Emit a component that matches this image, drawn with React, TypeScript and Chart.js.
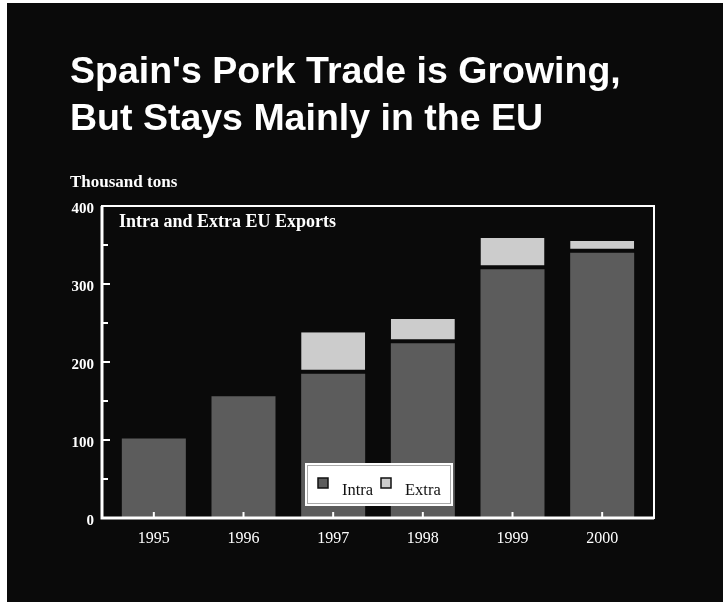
import React, { useEffect, useRef } from 'react';
import { Chart, registerables } from 'chart.js';

Chart.register(...registerables);

// ---- Data ----
const years = ['1995', '1996', '1997', '1998', '1999', '2000'];
const intraValues = [102, 156, 185, 224, 319, 340];
const extraValues = [0, 0, 53, 31, 40, 15];
const seriesNames = ['Intra', 'Extra'];
const yMax = 400;
const yStep = 50;
const yLabelStep = 100;

// ---- Texts ----
const titleLines = ["Spain's Pork Trade is Growing,", 'But Stays Mainly in the EU'];
const unitLabel = 'Thousand tons';
const panelLabel = 'Intra and Extra EU Exports';

const W = 723;
const H = 602;
const SERIF = '"Liberation Serif", "Times New Roman", serif';
const SANS = '"Liberation Sans", Arial, sans-serif';
const BG = '#0a0a0a';
const INTRA_COLOR = '#5c5c5c';
const EXTRA_COLOR = '#cccccc';

const decorPlugin = {
  id: 'decor',
  beforeDraw(chart: any) {
    const ctx = chart.ctx;
    ctx.save();
    ctx.fillStyle = '#ffffff';
    ctx.fillRect(0, 0, W, H);
    ctx.fillStyle = BG;
    ctx.fillRect(7, 3, W - 7, H - 3);
    ctx.fillStyle = '#ffffff';
    ctx.textAlign = 'left';
    ctx.textBaseline = 'alphabetic';
    ctx.font = `bold 37.5px ${SANS}`;
    ctx.fillText(titleLines[0], 70, 83);
    ctx.fillText(titleLines[1], 70, 130);
    ctx.font = `bold 17px ${SERIF}`;
    ctx.fillText(unitLabel, 70, 187);
    ctx.restore();
  },
  afterDatasetsDraw(chart: any) {
    const { ctx, chartArea: ca, scales } = chart;
    const xs = scales.x;
    const ys = scales.y;
    const left = ca.left - 7;
    const right = ca.right + 7;
    const top = ca.top;
    const bottom = ca.bottom;
    ctx.save();
    ctx.strokeStyle = '#ffffff';
    ctx.fillStyle = '#ffffff';

    // inward y tick marks
    ctx.lineWidth = 2;
    ys.ticks.forEach((t: any) => {
      if (t.value <= 0 || t.value >= yMax) return;
      const py = ys.getPixelForValue(t.value);
      ctx.beginPath();
      ctx.moveTo(left, py);
      ctx.lineTo(left + (t.value % yLabelStep === 0 ? 8 : 6), py);
      ctx.stroke();
    });
    // inward x tick marks
    years.forEach((_, i) => {
      const px = xs.getPixelForValue(i);
      ctx.beginPath();
      ctx.moveTo(px, bottom);
      ctx.lineTo(px, bottom - 6);
      ctx.stroke();
    });

    // frame
    ctx.lineWidth = 2;
    ctx.strokeRect(left, top, right - left, bottom - top);
    ctx.lineWidth = 3;
    ctx.beginPath();
    ctx.moveTo(left, top);
    ctx.lineTo(left, bottom);
    ctx.lineTo(right, bottom);
    ctx.stroke();

    // panel label
    ctx.font = `bold 18px ${SERIF}`;
    ctx.textAlign = 'left';
    ctx.textBaseline = 'alphabetic';
    ctx.fillText(panelLabel, left + 17, top + 21);

    // legend box
    const lw = 148;
    const lh = 43;
    const lx = (ca.left + ca.right) / 2 - lw / 2 + 1;
    const ly = bottom - 12 - lh;
    ctx.fillStyle = '#ffffff';
    ctx.fillRect(lx, ly, lw, lh);
    ctx.strokeStyle = '#555555';
    ctx.lineWidth = 1;
    ctx.setLineDash([1, 1]);
    ctx.strokeRect(lx + 2.5, ly + 2.5, lw - 5, lh - 5);
    ctx.setLineDash([]);

    const colors = [INTRA_COLOR, EXTRA_COLOR];
    const itemX = [lx + 13, lx + 76];
    ctx.font = `16.5px ${SERIF}`;
    seriesNames.forEach((name, i) => {
      const sx = itemX[i];
      const sy = ly + 15;
      ctx.fillStyle = colors[i];
      ctx.fillRect(sx, sy, 10, 10);
      ctx.strokeStyle = '#111111';
      ctx.lineWidth = 1.5;
      ctx.strokeRect(sx, sy, 10, 10);
      ctx.fillStyle = '#111111';
      ctx.fillText(name, sx + 24, ly + 32);
    });
    ctx.restore();
  },
};

export default function App() {
  const canvasRef = useRef<HTMLCanvasElement | null>(null);

  useEffect(() => {
    const canvas = canvasRef.current;
    if (!canvas) return;
    const chart = new Chart(canvas, {
      type: 'bar',
      data: {
        labels: years,
        datasets: [
          {
            label: seriesNames[0],
            data: intraValues,
            backgroundColor: INTRA_COLOR,
            borderWidth: 0,
            categoryPercentage: 1,
            barPercentage: 0.714,
          },
          {
            label: seriesNames[1],
            data: extraValues,
            backgroundColor: EXTRA_COLOR,
            borderColor: BG,
            borderWidth: { top: 0, left: 0, right: 0, bottom: 4 },
            borderSkipped: false,
            categoryPercentage: 1,
            barPercentage: 0.714,
          },
        ],
      },
      options: {
        responsive: false,
        animation: false,
        devicePixelRatio: 1,
        layout: { padding: { left: 49, right: 76, top: 206, bottom: 0 } },
        plugins: {
          legend: { display: false },
          title: { display: false },
          tooltip: { enabled: false },
        },
        scales: {
          x: {
            stacked: true,
            grid: { display: false },
            border: { display: false },
            ticks: {
              color: '#ffffff',
              font: { family: SERIF, size: 16 },
              padding: 3,
              maxRotation: 0,
              autoSkip: false,
            },
            afterFit: (s: any) => {
              s.height = 84;
            },
          },
          y: {
            stacked: true,
            min: 0,
            max: yMax,
            grid: { display: false },
            border: { display: false },
            ticks: {
              stepSize: yStep,
              color: '#ffffff',
              font: { family: SERIF, size: 15, weight: 'bold' },
              padding: 7,
              labelOffset: 3,
              callback: (v: any) => (Number(v) % yLabelStep === 0 ? String(v) : ''),
            },
            afterFit: (s: any) => {
              s.width = 60;
            },
          },
        },
      },
      plugins: [decorPlugin],
    } as any);
    return () => chart.destroy();
  }, []);

  return (
    <div style={{ position: 'absolute', left: 0, top: 0, width: W, height: H, background: BG }}>
      <canvas ref={canvasRef} width={W} height={H} style={{ display: 'block', width: W, height: H }} />
    </div>
  );
}
